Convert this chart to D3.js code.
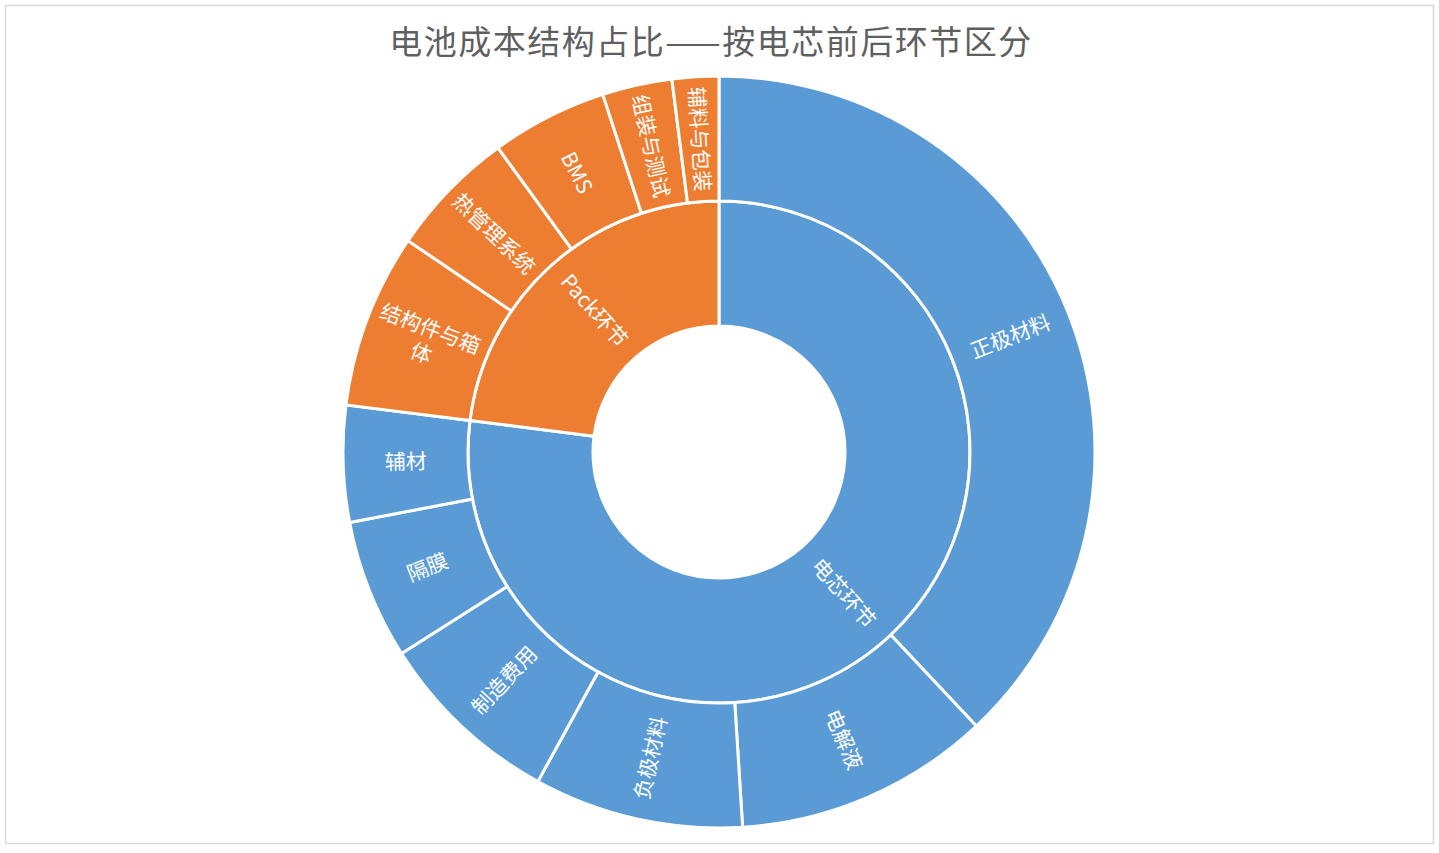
<!DOCTYPE html>
<html>
<head>
<meta charset="utf-8">
<script src="https://cdn.jsdelivr.net/npm/d3@7"></script>
<style>
  html, body { margin: 0; padding: 0; background: #fff; }
  svg { display: block; }
</style>
</head>
<body>
<svg id="chart"></svg>
<script>
// data (percent of battery cost)
const groups = ['电芯环节', 'Pack环节'];
const cellItems = ['正极材料', '电解液', '负极材料', '制造费用', '隔膜', '辅材'];
const cellValues = [38, 11, 9, 8, 6, 5];
const packItems = ['结构件与箱体', '热管理系统', 'BMS', '组装与测试', '辅料与包装'];
const packValues = [7.5, 5.5, 5, 3, 2];
const groupColors = ['#5b9bd5', '#ed7d31'];
const title = '电池成本结构占比——按电芯前后环节区分';

const W = 1439, H = 853;
const cx = 719, cy = 452;
const radii = [126, 251, 376];   // hole, inner ring edge, outer ring edge
const font = '"Noto Sans CJK SC", "Noto Sans", sans-serif';

const svg = d3.select('#chart').attr('width', W).attr('height', H);

// frame
svg.append('rect')
  .attr('x', 5.5).attr('y', 5.5)
  .attr('width', 1428).attr('height', 838)
  .attr('fill', '#fff')
  .attr('stroke', '#d9d9d9')
  .attr('stroke-width', 1.5);

svg.append('text')
  .attr('x', 711).attr('y', 54)
  .attr('text-anchor', 'middle')
  .attr('font-family', font)
  .attr('font-size', 33)
  .attr('letter-spacing', 1.5)
  .attr('fill', '#5f5f5f')
  .text(title);

// build hierarchy from the arrays
const tree = {
  name: 'root',
  children: [
    { name: groups[0], children: cellItems.map((n, i) => ({ name: n, value: cellValues[i] })) },
    { name: groups[1], children: packItems.map((n, i) => ({ name: n, value: packValues[i] })) }
  ]
};

const root = d3.hierarchy(tree).sum(d => d.value || 0);
d3.partition().size([2 * Math.PI, 3])(root);

const arc = d3.arc()
  .startAngle(d => d.x0)
  .endAngle(d => d.x1)
  .innerRadius(d => radii[d.depth - 1])
  .outerRadius(d => radii[d.depth]);

const nodes = root.descendants().filter(d => d.depth > 0);

const g = svg.append('g').attr('transform', `translate(${cx},${cy})`);

g.selectAll('path.seg')
  .data(nodes)
  .enter().append('path')
  .attr('class', 'seg')
  .attr('d', arc)
  .attr('fill', d => {
    const top = d.depth === 1 ? d : d.parent;
    return groupColors[groups.indexOf(top.data.name)];
  })
  .attr('stroke', '#fff')
  .attr('stroke-width', 3)
  .attr('stroke-linejoin', 'miter');

// labels, oriented along the radius like Excel does
const fontSize = 21, lineH = 26, maxChars = 5;

const labels = g.selectAll('text.lbl')
  .data(nodes)
  .enter().append('text')
  .attr('class', 'lbl')
  .attr('font-family', font)
  .attr('font-size', fontSize)
  .attr('fill', '#fff')
  .attr('text-anchor', 'middle')
  .attr('transform', d => {
    const a = (d.x0 + d.x1) / 2;
    const r = (radii[d.depth - 1] + radii[d.depth]) / 2;
    const x = r * Math.sin(a), y = -r * Math.cos(a);
    let deg = a * 180 / Math.PI - 90;
    if (deg > 90) deg -= 180;
    return `translate(${x},${y}) rotate(${deg})`;
  });

labels.each(function (d) {
  const name = d.data.name;
  const lines = [];
  for (let i = 0; i < name.length; i += maxChars) lines.push(name.slice(i, i + maxChars));
  if (/^[A-Za-z]/.test(name)) { lines.length = 0; lines.push(name); }
  const t = d3.select(this);
  const off = -(lines.length - 1) * lineH / 2;
  lines.forEach((s, i) => {
    t.append('tspan')
      .attr('x', 0)
      .attr('y', off + i * lineH)
      .attr('dy', '0.35em')
      .text(s);
  });
});
</script>
</body>
</html>
